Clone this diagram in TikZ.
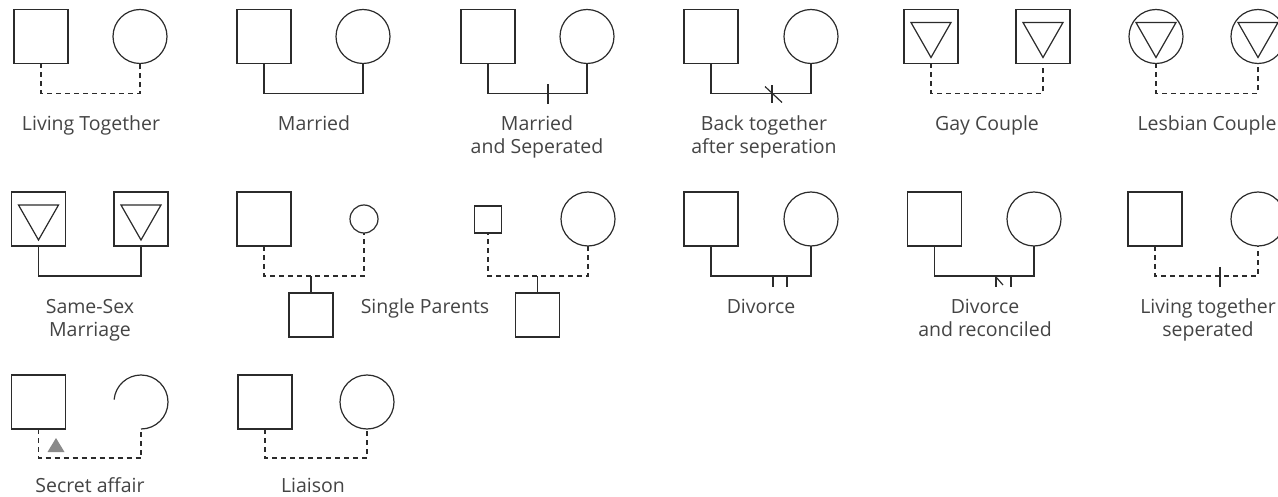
\documentclass[tikz,border=0pt]{standalone}
\usepackage{fontspec}
\setmainfont{Open Sans}
\usetikzlibrary{calc}
\definecolor{ink}{HTML}{2B2B2B}
\definecolor{txt}{HTML}{444444}
\definecolor{hidden}{HTML}{8A8A8A}

\tikzset{
  tie/.style={draw=ink, line width=1.2pt},
  cohab/.style={tie, dash pattern=on 5pt off 4pt},
  male/.style={tie, rectangle, minimum size=54pt, inner sep=0pt, outer sep=0pt},
  female/.style={tie, circle, minimum size=54pt, inner sep=0pt, outer sep=0pt},
  child/.style={male, minimum size=44pt},
  small male/.style={male, minimum size=27pt},
  small female/.style={female, minimum size=28pt},
  inner tri/.style={path picture={
      \draw[ink, line width=1.2pt, line join=miter]
        ([shift={(-20pt,14pt)}]path picture bounding box.center) --
        ([shift={(20pt,14pt)}]path picture bounding box.center) --
        ([shift={(0pt,-21pt)}]path picture bounding box.center) -- cycle;}},
  gay/.style={male, inner tri},
  lesbian/.style={female, inner tri},
  % captions are anchored at the baseline of their last line
  caption/.style={text=txt, font=\fontsize{19.5}{23}\selectfont, align=center,
    anchor=base, inner sep=0pt},
}

\begin{document}
\begin{tikzpicture}[x=1pt, y=-1pt]
\useasboundingbox (0,0) rectangle (1278,497);

% ---------- first row ----------
% living together
\node[male]   (lt-m) at (41,36.5) {};
\node[female] (lt-f) at (140,36.5) {};
\draw[cohab] (lt-m.south) -- ++(0,30) -| (lt-f.south);
\node[caption] (lt-t) at (91,131) {Living Together};

% married
\node[male]   (ma-m) at (264,36.5) {};
\node[female] (ma-f) at (363,36.5) {};
\draw[tie] (ma-m.south) -- ++(0,30) -| (ma-f.south);
\node[caption] (ma-t) at (314,131) {Married};

% married and separated
\node[male]   (ms-m) at (488,36.5) {};
\node[female] (ms-f) at (587,36.5) {};
\draw[tie] (ms-m.south) -- ++(0,30) coordinate (ms-b) -| (ms-f.south);
\draw[tie] ([xshift=60pt]ms-b) ++(0,-9) -- ++(0,20);
\node[caption] (ms-t) at (537,154) {Married\\and Seperated};

% back together after separation
\node[male]   (bt-m) at (711,36.5) {};
\node[female] (bt-f) at (811,36.5) {};
\draw[tie] (bt-m.south) -- ++(0,30) coordinate (bt-b) -| (bt-f.south);
\draw[tie] ([xshift=61pt]bt-b) ++(0,-8) -- ++(0,18);
\draw[tie] ([xshift=54pt]bt-b) ++(0,-7) -- ++(17,16);
\node[caption] (bt-t) at (764,154) {Back together\\after seperation};

% gay couple
\node[gay] (gc-a) at (931,36.5) {};
\node[gay] (gc-b) at (1043,36.5) {};
\draw[cohab] (gc-a.south) -- ++(0,30) -| (gc-b.south);
\node[caption] (gc-t) at (987,131) {Gay Couple};

% lesbian couple
\node[lesbian] (lc-a) at (1156,36.5) {};
\node[lesbian] (lc-b) at (1258,36.5) {};
\draw[cohab] (lc-a.south) -- ++(0,30) -| (lc-b.south);
\node[caption] (lc-t) at (1207,131) {Lesbian Couple};

% ---------- second row ----------
% same-sex marriage
\node[gay] (sm-a) at (38.5,219) {};
\node[gay] (sm-b) at (141,219) {};
\draw[tie] (sm-a.south) -- ++(0,30) -| (sm-b.south);
\node[caption] (sm-t) at (90,336) {Same-Sex\\Marriage};

% single parents: father with child
\node[male]         (sp1-m) at (264,219) {};
\node[small female] (sp1-f) at (364,219) {};
\node[child]        (sp1-c) at (311,315) {};
\draw[cohab] (sp1-m.south) -- ++(0,30) coordinate (sp1-b) -| (sp1-f.south);
\draw[tie] (sp1-c.north) -- (sp1-c.north |- sp1-b);

% single parents: mother with child
\node[small male] (sp2-m) at (488,219.5) {};
\node[female]     (sp2-f) at (588,219) {};
\node[child]      (sp2-c) at (537.5,315) {};
\draw[cohab] (sp2-f.south) -- ++(0,30) coordinate (sp2-b) -| (sp2-m.south);
\draw[tie] (sp2-c.north) -- (sp2-c.north |- sp2-b);
\node[caption] (sp-t) at (425,313) {Single Parents};

% divorce
\node[male]   (dv-m) at (711,219) {};
\node[female] (dv-f) at (811,219) {};
\draw[tie] (dv-m.south) -- ++(0,30) coordinate (dv-b) -| (dv-f.south);
\draw[tie] ([xshift=62pt]dv-b) -- ++(0,11);
\draw[tie] ([xshift=76pt]dv-b) -- ++(0,11);
\node[caption] (dv-t) at (761,313) {Divorce};

% divorce and reconciled
\node[male]   (dr-m) at (934.5,219) {};
\node[female] (dr-f) at (1034,219) {};
\draw[tie] (dr-m.south) -- ++(0,30) coordinate (dr-b) -| (dr-f.south);
\draw[tie] ([xshift=61.5pt]dr-b) -- ++(0,11);
\draw[tie] ([xshift=61.5pt]dr-b) ++(0,1) -- ++(7,8);
\draw[tie] ([xshift=76.5pt]dr-b) -- ++(0,11);
\node[caption] (dr-t) at (985,336) {Divorce\\and reconciled};

% living together, separated
\node[male]   (ls-m) at (1155,219) {};
\node[female] (ls-f) at (1258,219) {};
\draw[cohab] (ls-m.south) -- ++(0,30) coordinate (ls-b) -| (ls-f.south);
\draw[tie] ([xshift=65pt]ls-b) ++(0,-9) -- ++(0,20);
\node[caption] (ls-t) at (1208,336) {Living together\\seperated};

% ---------- third row ----------
% secret affair
\node[male]            (sa-m) at (38.5,402) {};
\node[female, draw=none] (sa-f) at (141,402) {};
\draw[tie] (sa-f.south) arc[start angle=-90, end angle=175, radius=27pt];
\draw[cohab] (sa-m.south) -- ++(0,29) -| (sa-f.south);
\fill[hidden] (56,438) -- (64.5,452) -- (47.5,452) -- cycle;
\node[caption] (sa-t) at (90,492) {Secret affair};

% liaison
\node[male]   (li-m) at (265,402) {};
\node[female] (li-f) at (367,402) {};
\draw[cohab] (li-m.south) -- ++(0,29) -| (li-f.south);
\node[caption] (li-t) at (313,492) {Liaison};
\end{tikzpicture}
\end{document}
